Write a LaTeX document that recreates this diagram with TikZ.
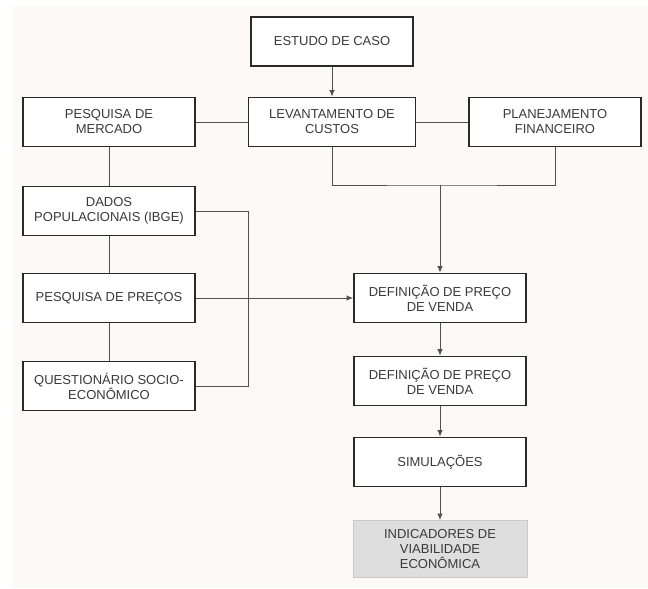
\documentclass[tikz,border=0pt]{standalone}
\usepackage{fontspec}
\setmainfont{Liberation Sans}
\usepackage{xcolor}
\usepackage{tikz}
\usetikzlibrary{arrows.meta,positioning,calc}
\definecolor{fundo}{HTML}{FDF9F6}
\definecolor{moldura}{HTML}{2A2A2A}
\definecolor{texto}{HTML}{3A3A3A}
\definecolor{linha}{HTML}{505050}
\definecolor{cinzabg}{HTML}{DEDEDE}
\definecolor{cinzaborda}{HTML}{C9C9C9}

\begin{document}
\begin{tikzpicture}[
  x=1pt,y=-1pt,
  font=\fontsize{13}{15}\selectfont,
  etapa/.style={draw=moldura,line width=1.7pt,fill=white,text=texto,
               align=center,minimum width=172pt,minimum height=49pt,
               inner sep=2pt},
  resultado/.style={draw=cinzaborda,line width=0.8pt,fill=cinzabg,
               text=texto,align=center,minimum width=174pt,
               minimum height=57pt,inner sep=2pt},
  liga/.style={draw=linha,line width=0.9pt},
  seta/.style={-{Latex[length=6.5pt,width=5.5pt]},line width=0.9pt,draw=linha}
]
\useasboundingbox (0,0) rectangle (648,589);
\fill[fundo] (12,6) rectangle (648,588);

% coluna central e direita
\node[etapa,minimum width=162pt] (estudo) at (332,41.5) {ESTUDO DE CASO};
\node[etapa,minimum width=167pt] (levant) at (332,122)
  {LEVANTAMENTO DE\\CUSTOS};
\node[etapa] (planej) at (555,122) {PLANEJAMENTO\\FINANCEIRO};

% coluna da esquerda
\node[etapa] (mercado) at (109,122) {PESQUISA DE\\MERCADO};
\node[etapa] (dados) at (109,211) {DADOS\\POPULACIONAIS (IBGE)};
\node[etapa] (precos) at (109,298) {PESQUISA DE PREÇOS};
\node[etapa] (quest) at (109,386) {QUESTIONÁRIO SOCIO-\\ECONÔMICO};

% sequencia final
\node[etapa] (def1) at (440,298) {DEFINIÇÃO DE PREÇO\\DE VENDA};
\node[etapa] (def2) at (440,381) {DEFINIÇÃO DE PREÇO\\DE VENDA};
\node[etapa] (simul) at (440,462) {SIMULAÇÕES};
\node[resultado] (indic) at (440,549)
  {INDICADORES DE\\VIABILIDADE\\ECONÔMICA};

\coordinate (junta) at (def1.north |- 0,185);
\coordinate (barra) at (248,0);

\draw[seta] (estudo) -- (levant);
\draw[liga] (mercado) -- (levant);
\draw[liga] (levant) -- (planej);
\draw[liga] (levant.south) |- (junta) -| (planej.south);
\draw[seta] (junta) -- (def1);
\draw[liga] (mercado) -- (dados);
\draw[liga] (dados) -- (precos);
\draw[liga] (precos) -- (quest);
\draw[liga] (dados.east) -| (barra |- quest.east) -- (quest.east);
\draw[seta] (precos) -- (def1);
\draw[seta] (def1) -- (def2);
\draw[seta] (def2) -- (simul);
\draw[seta] (simul) -- (indic);
\end{tikzpicture}
\end{document}
